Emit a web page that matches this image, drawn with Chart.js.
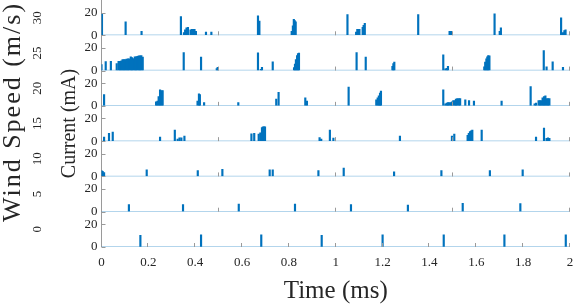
<!DOCTYPE html>
<html>
<head>
<meta charset="utf-8">
<script src="https://cdn.jsdelivr.net/npm/chart.js@4.4.1/dist/chart.umd.min.js"></script>
<style>
  body { margin: 0; background: #fff; }
  canvas { display: block; }
</style>
</head>
<body>
<canvas id="myChart" width="574" height="306"></canvas>
<script>
// wind speed of each panel, top to bottom
var windSpeeds = [30, 25, 20, 15, 10, 5, 0];

// spike times (ms) and currents (mA), one pair per panel
var p1Time = [0.002, 0.103, 0.171, 0.339, 0.352, 0.357, 0.363, 0.369, 0.380, 0.386, 0.392, 0.397, 0.403, 0.446, 0.469, 0.668, 0.674, 0.812, 0.817, 0.821, 0.825, 0.829, 1.050, 1.087, 1.092, 1.097, 1.101, 1.115, 1.119, 1.124, 1.352, 1.486, 1.492, 1.678, 1.700, 1.705, 1.962, 1.970, 1.976, 1.981];
var p1Current = [18.8, 11.8, 3.5, 16.5, 2.4, 4.7, 6.5, 7.0, 4.7, 5.3, 5.3, 5.3, 3.5, 2.9, 2.9, 17.0, 12.4, 3.5, 8.2, 14.0, 12.9, 11.8, 18.2, 2.9, 5.3, 5.3, 5.3, 7.0, 8.8, 10.6, 18.2, 3.5, 3.5, 18.8, 3.5, 6.5, 15.3, 2.4, 4.1, 4.7];

var p2Time = [0.000, 0.018, 0.040, 0.065, 0.073, 0.079, 0.085, 0.090, 0.096, 0.102, 0.107, 0.113, 0.119, 0.125, 0.130, 0.136, 0.142, 0.147, 0.153, 0.159, 0.164, 0.170, 0.176, 0.351, 0.425, 0.492, 0.496, 0.668, 0.680, 0.685, 0.731, 0.822, 0.826, 0.830, 0.835, 0.839, 0.843, 1.089, 1.128, 1.242, 1.246, 1.250, 1.459, 1.468, 1.474, 1.479, 1.634, 1.638, 1.643, 1.647, 1.651, 1.656, 1.888, 1.900, 1.926, 1.970];
var p2Current = [5.3, 7.9, 8.2, 6.2, 8.2, 8.2, 8.5, 9.7, 9.7, 9.7, 10.0, 10.3, 10.3, 12.0, 11.5, 10.6, 12.0, 12.0, 12.6, 13.0, 13.0, 13.2, 11.8, 15.9, 11.8, 1.8, 2.9, 15.6, 1.2, 2.9, 7.6, 2.6, 5.6, 9.7, 13.2, 15.0, 15.3, 15.9, 11.8, 3.8, 6.2, 7.4, 13.8, 1.5, 2.0, 3.8, 3.2, 7.4, 10.3, 12.0, 13.2, 12.9, 17.6, 3.2, 7.6, 2.9];

var p3Time = [0.011, 0.233, 0.239, 0.244, 0.250, 0.256, 0.261, 0.410, 0.416, 0.420, 0.438, 0.584, 0.746, 0.756, 0.870, 0.877, 1.055, 1.173, 1.179, 1.184, 1.189, 1.193, 1.459, 1.468, 1.474, 1.479, 1.485, 1.491, 1.496, 1.502, 1.508, 1.513, 1.519, 1.525, 1.531, 1.553, 1.569, 1.590, 1.708, 1.832, 1.849, 1.855, 1.866, 1.872, 1.878, 1.883, 1.889, 1.895, 1.900, 1.906, 1.912];
var p3Current = [10.0, 3.5, 4.1, 8.2, 14.0, 13.5, 13.5, 4.1, 10.6, 10.0, 2.9, 2.9, 5.9, 11.8, 7.0, 4.1, 16.5, 5.3, 7.0, 8.8, 11.2, 12.9, 14.1, 1.8, 2.4, 2.9, 2.9, 2.9, 3.5, 4.7, 4.7, 5.9, 6.5, 6.5, 6.5, 5.3, 4.7, 4.1, 4.1, 17.0, 1.8, 2.4, 4.7, 4.7, 4.7, 7.0, 8.2, 8.8, 6.5, 6.5, 6.5];

var p4Time = [0.011, 0.032, 0.048, 0.250, 0.313, 0.325, 0.333, 0.341, 0.354, 0.640, 0.652, 0.671, 0.678, 0.685, 0.689, 0.694, 0.698, 0.931, 0.938, 0.975, 0.990, 1.274, 1.496, 1.506, 1.563, 1.568, 1.573, 1.578, 1.583, 1.623, 1.855, 1.889, 1.900, 1.906, 1.912];
var p4Current = [3.5, 6.8, 7.9, 3.5, 9.7, 1.8, 2.9, 2.9, 4.4, 6.5, 6.8, 6.2, 7.4, 12.0, 12.6, 12.6, 12.6, 3.2, 1.8, 9.7, 2.6, 4.4, 4.4, 6.2, 5.0, 6.8, 8.5, 9.1, 9.7, 9.7, 3.5, 11.5, 2.4, 2.9, 2.4];

var p5Time = [0.000, 0.005, 0.011, 0.193, 0.411, 0.516, 0.718, 0.731, 0.926, 1.034, 1.249, 1.451, 1.658, 1.798];
var p5Current = [5.1, 4.5, 3.4, 5.7, 5.1, 6.3, 5.7, 5.7, 5.1, 7.4, 4.0, 5.1, 5.1, 5.7];

var p6Time = [0.117, 0.348, 0.586, 0.826, 1.065, 1.308, 1.542, 1.788];
var p6Current = [6.2, 6.2, 6.8, 6.8, 6.2, 5.9, 7.4, 7.1];

var p7Time = [0.166, 0.425, 0.682, 0.940, 1.200, 1.461, 1.720, 1.982];
var p7Current = [10.3, 10.6, 10.6, 10.3, 10.6, 10.6, 10.6, 10.6];

var panelTimes = [p1Time, p2Time, p3Time, p4Time, p5Time, p6Time, p7Time];
var panelCurrents = [p1Current, p2Current, p3Current, p4Current, p5Current, p6Current, p7Current];

// upper panels only carry ticks every 0.5 ms
var upperTickTimes = [0.5, 1, 1.5, 2];

var FONT = "'Liberation Serif', 'Times New Roman', serif";
var TEXT = '#262626';
var AXIS = '#9a9a9a';

function noPadding(scale) {
    scale.paddingTop = 0;
    scale.paddingBottom = 0;
    scale.paddingLeft = 0;
    scale.paddingRight = 0;
}

var datasets = [];
var scales = {
    x: {
        type: 'linear',
        min: 0,
        max: 2,
        offset: false,
        border: { display: false },
        grid: { display: false, drawTicks: false },
        ticks: {
            stepSize: 0.2,
            padding: 8,
            color: TEXT,
            font: { family: FONT, size: 13 },
            callback: function (v) { return String(+v.toFixed(1)); }
        },
        afterFit: function (scale) {
            scale.height = 59;
            noPadding(scale);
        }
    }
};

windSpeeds.forEach(function (ws, i) {
    var id = 'y' + i;
    datasets.push({
        type: 'bar',
        yAxisID: id,
        data: panelTimes[i].map(function (t, k) { return { x: t, y: panelCurrents[i][k] }; }),
        backgroundColor: '#0072BD',
        borderWidth: 0,
        barThickness: 1.5,
        grouped: false,
        order: 1
    });
    datasets.push({
        type: 'line',
        yAxisID: id,
        data: [{ x: 0, y: 0 }, { x: 2, y: 0 }],
        borderColor: 'rgba(0, 114, 189, 0.4)',
        borderWidth: 1.5,
        pointRadius: 0,
        order: 2
    });
    scales[id] = {
        type: 'linear',
        position: 'left',
        stack: 'panels',
        stackWeight: 1,
        weight: 7 - i,
        min: 0,
        max: 31,
        border: { display: true, color: AXIS, width: 1 },
        grid: { display: true, drawOnChartArea: false, drawTicks: false },
        ticks: {
            stepSize: 10,
            padding: 4,
            color: TEXT,
            font: { family: FONT, size: 13 }
        },
        afterBuildTicks: function (scale) {
            scale.ticks = scale.ticks.filter(function (t) { return t.value <= 20; });
        },
        afterFit: function (scale) {
            scale.width = 101.5;
            noPadding(scale);
        }
    };
});

var panelText = {
    id: 'panelText',
    afterDraw: function (chart) {
        var ctx = chart.ctx;
        var area = chart.chartArea;
        var xs = chart.scales.x;
        ctx.save();
        ctx.strokeStyle = AXIS;
        ctx.lineWidth = 1;
        windSpeeds.forEach(function (ws, i) {
            var ys = chart.scales['y' + i];
            // inward tick marks
            ys.ticks.forEach(function (t) {
                var py = Math.round(ys.getPixelForValue(t.value)) + 0.5;
                ctx.beginPath();
                ctx.moveTo(area.left, py);
                ctx.lineTo(area.left + 4, py);
                ctx.stroke();
            });
            var times = i === windSpeeds.length - 1 ? xs.ticks.map(function (t) { return t.value; }) : upperTickTimes;
            var base = ys.getPixelForValue(0);
            times.forEach(function (t) {
                if (t === 0) return;
                var px = Math.round(xs.getPixelForValue(t)) - 0.5;
                ctx.beginPath();
                ctx.moveTo(px, base);
                ctx.lineTo(px, base - 4);
                ctx.stroke();
            });
            // wind speed label
            ctx.save();
            ctx.translate(38, (ys.top + ys.bottom) / 2);
            ctx.rotate(-Math.PI / 2);
            ctx.fillStyle = TEXT;
            ctx.font = '13px ' + FONT;
            ctx.textAlign = 'center';
            ctx.textBaseline = 'middle';
            ctx.fillText(String(ws), 0, 0);
            ctx.restore();
        });

        ctx.fillStyle = TEXT;
        ctx.textAlign = 'center';
        ctx.textBaseline = 'middle';

        ctx.save();
        ctx.translate(70, (area.top + area.bottom) / 2);
        ctx.rotate(-Math.PI / 2);
        ctx.font = '20px ' + FONT;
        ctx.fillText('Current (mA)', 0, 0);
        ctx.restore();

        ctx.save();
        ctx.translate(13, 112);
        ctx.rotate(-Math.PI / 2);
        ctx.font = '26px ' + FONT;
        ctx.letterSpacing = '2px';
        ctx.fillText('Wind Speed (m/s)', 0, 0);
        ctx.restore();

        ctx.font = '25px ' + FONT;
        ctx.fillText('Time (ms)', (area.left + area.right) / 2, 291);
        ctx.restore();
    }
};

var myChart = new Chart(document.getElementById('myChart'), {
    type: 'bar',
    data: { datasets: datasets },
    options: {
        responsive: false,
        animation: false,
        devicePixelRatio: 1,
        layout: { padding: { top: 0, right: 4, left: 0, bottom: 0 } },
        plugins: {
            legend: { display: false },
            tooltip: { enabled: false }
        },
        scales: scales
    },
    plugins: [panelText]
});
</script>
</body>
</html>
